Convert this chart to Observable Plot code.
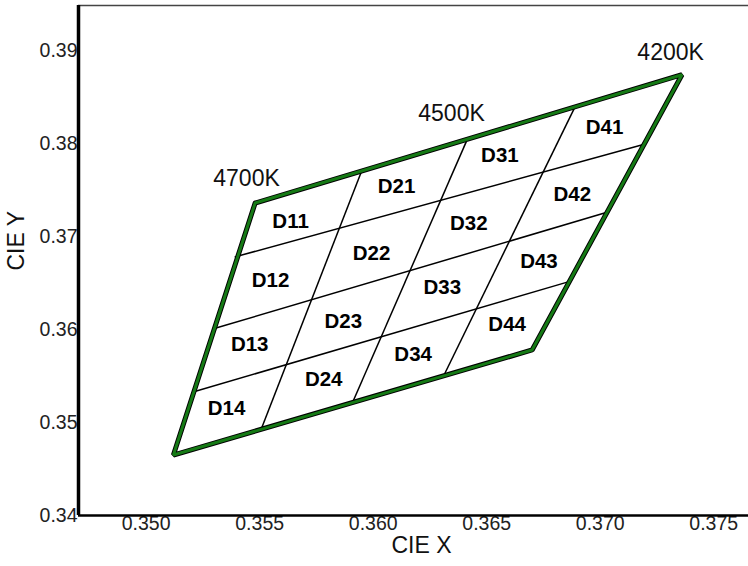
<!DOCTYPE html>
<html>
<head>
<meta charset="utf-8">
<script src="https://cdn.jsdelivr.net/npm/d3@7"></script>
<script src="https://cdn.jsdelivr.net/npm/@observablehq/plot@0.6"></script>
<style>
  html, body { margin: 0; padding: 0; background: #fff; }
  #chart svg { display: block; }
</style>
</head>
<body>
<div id="chart"></div>
<script>
// Quadrangle corners (CIE x, y): 4700K top-left, 4200K top-right, bottom-right, bottom-left
const cornerX = [0.3548, 0.3736, 0.3670, 0.3512];
const cornerY = [0.3736, 0.3874, 0.3578, 0.3465];

// Internal grid lines (start -> end)
const gridX1 = [0.3595, 0.3641, 0.3689, 0.3539, 0.3530, 0.3521];
const gridY1 = [0.3771, 0.3802, 0.3840, 0.3678, 0.3601, 0.3533];
const gridX2 = [0.3551, 0.3591, 0.3631, 0.3719, 0.3703, 0.3687];
const gridY2 = [0.3495, 0.3522, 0.3550, 0.3799, 0.3726, 0.3652];

// Bin labels
const binNames = ["D11","D21","D31","D41","D12","D22","D32","D42","D13","D23","D33","D43","D14","D24","D34","D44"];
const binX = [0.35636,0.36103,0.36558,0.37019,0.35548,0.35993,0.36421,0.36877,0.35456,0.35868,0.36304,0.36730,0.35354,0.35782,0.36176,0.36590];
const binY = [0.37161,0.37538,0.37871,0.38169,0.36527,0.36820,0.37137,0.37452,0.35835,0.36086,0.36448,0.36734,0.35147,0.35459,0.35731,0.36051];

// CCT labels
const cctNames = ["4700K", "4500K", "4200K"];
const cctX = [0.35442, 0.36345, 0.37310];
const cctY = [0.37620, 0.38319, 0.38982];

// Axis ticks
const xTicks = [0.350, 0.355, 0.360, 0.365, 0.370, 0.375];
const yTicks = [0.34, 0.35, 0.36, 0.37, 0.38, 0.39];
const xLabel = "CIE X";
const yLabel = "CIE Y";

const xDomain = [0.34702, 0.37653];
const yDomain = [0.34, 0.39484];

const outline = cornerX.map((x, i) => ({x, y: cornerY[i]}));
outline.push(outline[0]);
const grid = gridX1.map((x1, i) => ({x1, y1: gridY1[i], x2: gridX2[i], y2: gridY2[i]}));
const bins = binNames.map((name, i) => ({name, x: binX[i], y: binY[i]}));
const ccts = cctNames.map((name, i) => ({name, x: cctX[i], y: cctY[i]}));

const chart = Plot.plot({
  width: 748,
  height: 566,
  marginLeft: 78,
  marginRight: 0,
  marginTop: 5,
  marginBottom: 51,
  style: {fontFamily: "'Liberation Sans', Arial, sans-serif", background: "#fff"},
  x: {domain: xDomain},
  y: {domain: yDomain},
  marks: [
    Plot.axisX({ticks: xTicks, tickFormat: d3.format(".3f"), tickSize: 0, tickPadding: 1, label: null, fontSize: 19.5, fill: "#222"}),
    Plot.axisY({ticks: yTicks, tickFormat: d3.format(".2f"), tickSize: 0, tickPadding: 1, label: null, fontSize: 19.5, fill: "#222"}),
    Plot.ruleY([yDomain[1]], {stroke: "#444", strokeWidth: 1.5}),
    Plot.ruleX([xDomain[0]], {stroke: "#000", strokeWidth: 3.5}),
    Plot.ruleY([yDomain[0]], {stroke: "#000", strokeWidth: 2.5}),
    Plot.link(grid, {x1: "x1", y1: "y1", x2: "x2", y2: "y2", stroke: "#000", strokeWidth: 1.5}),
    Plot.line(outline, {x: "x", y: "y", stroke: "#000", strokeWidth: 5, strokeLinejoin: "miter"}),
    Plot.line(outline, {x: "x", y: "y", stroke: "#157a15", strokeWidth: 3, strokeLinejoin: "miter"}),
    Plot.text(bins, {x: "x", y: "y", text: "name", fontSize: 20.5, fontWeight: "bold", fill: "#000"}),
    Plot.text(ccts, {x: "x", y: "y", text: "name", fontSize: 23, fill: "#111"}),
    Plot.text([xLabel], {frameAnchor: "bottom", dx: 8, dy: 37, fontSize: 23, fill: "#111"}),
    Plot.text([yLabel], {frameAnchor: "left", dx: -62, dy: 10, rotate: -90, fontSize: 23, fill: "#111"})
  ]
});
document.getElementById("chart").appendChild(chart);
</script>
</body>
</html>
